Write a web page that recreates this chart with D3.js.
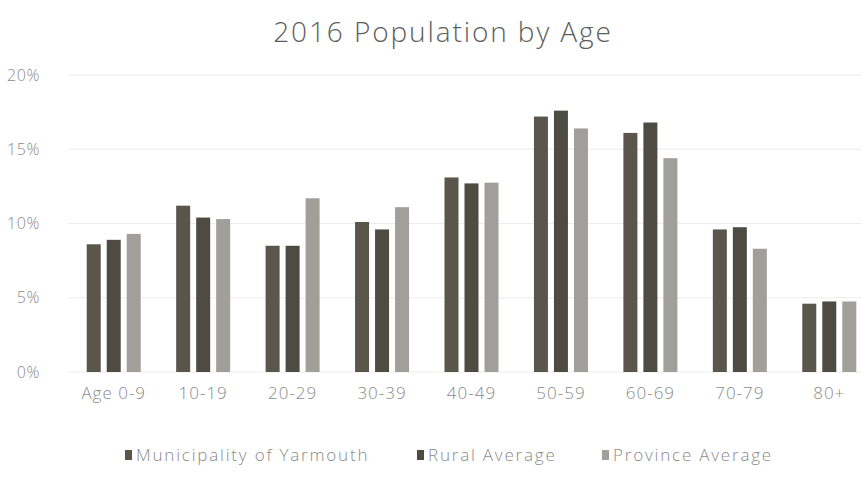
<!DOCTYPE html>
<html><head><meta charset="utf-8">
<script src="https://cdn.jsdelivr.net/npm/d3@7/dist/d3.min.js"></script>
<style>body{margin:0;background:#fff;} svg{display:block;}</style>
</head><body>
<svg id="c" width="861" height="485"></svg>
<script>
const categories = ["Age 0-9","10-19","20-29","30-39","40-49","50-59","60-69","70-79","80+"];
const seriesNames = ["Municipality of Yarmouth","Rural Average","Province Average"];
const municipality = [8.6, 11.2, 8.5, 10.1, 13.1, 17.2, 16.1, 9.6, 4.6];
const rural = [8.9, 10.4, 8.5, 9.6, 12.7, 17.6, 16.8, 9.75, 4.75];
const province = [9.3, 10.3, 11.7, 11.1, 12.75, 16.4, 14.4, 8.3, 4.75];
const yTicks = [0, 5, 10, 15, 20];
const colors = ["#5a564b", "#4e4b43", "#a09f99"];

const svg = d3.select("#c");
const series = [municipality, rural, province];
const x = d3.scaleBand().domain(categories).range([69, 874]).paddingInner(0).paddingOuter(0);
const y = d3.scaleLinear().domain([0, 20]).range([372, 75]);
const xs = d3.scaleBand().domain(d3.range(3)).range([0, 54]).paddingInner(0.3);
const font = "'Open Sans', sans-serif";

// gridlines
svg.append("g").selectAll("line").data(yTicks).join("line")
  .attr("x1", 68).attr("x2", 861)
  .attr("y1", d => y(d)).attr("y2", d => y(d))
  .attr("stroke", "#ececec").attr("stroke-width", 1.2);

// y axis
const ya = d3.axisLeft(y).tickValues(yTicks).tickFormat(d => d + "%").tickSize(0).tickPadding(0);
const yg = svg.append("g").attr("transform", "translate(40,0)").call(ya);
yg.select(".domain").remove();
yg.selectAll("text").attr("fill", "#8a8a8a").style("font-family", font).style("font-size", "16px").style("font-weight", 300).style("letter-spacing", "0.6px").attr("x", 0).attr("text-anchor", "end");

// bars
const groups = svg.append("g").selectAll("g").data(categories).join("g")
  .attr("transform", d => `translate(${x(d) + x.bandwidth()/2 - 27},0)`);
groups.selectAll("rect").data((d, i) => series.map((s, k) => ({k, v: s[i]}))).join("rect")
  .attr("x", d => xs(d.k)).attr("width", xs.bandwidth())
  .attr("y", d => y(d.v)).attr("height", d => y(0) - y(d.v))
  .attr("fill", d => colors[d.k]);

// x axis
const xa = d3.axisBottom(x).tickSize(0).tickPadding(0);
const xg = svg.append("g").attr("transform", "translate(0,393)").call(xa);
xg.select(".domain").remove();
xg.selectAll("text").attr("fill", "#8a8a8a").style("font-family", font).style("font-size", "17px").style("font-weight", 300).style("letter-spacing", "1px").attr("dy", "0.35em");

// title
svg.append("text").attr("x", 443).attr("y", 42).attr("text-anchor", "middle")
  .attr("fill", "#5e5e5e").style("font-family", font).style("font-size", "28px").style("font-weight", 300).style("letter-spacing", "1.9px")
  .text("2016 Population by Age");

// legend
const legX = [125, 417, 602];
const leg = svg.append("g").selectAll("g").data(seriesNames).join("g")
  .attr("transform", (d, i) => `translate(${legX[i]},455)`);
leg.append("rect").attr("x", 0).attr("y", -5).attr("width", 7).attr("height", 10).attr("fill", (d, i) => colors[i]);
leg.append("text").attr("x", 11).attr("y", 0).attr("dy", "0.35em").attr("fill", "#8a8a8a")
  .style("font-family", font).style("font-size", "17px").style("font-weight", 300).style("letter-spacing", "1.8px").text(d => d);
</script>
</body></html>
